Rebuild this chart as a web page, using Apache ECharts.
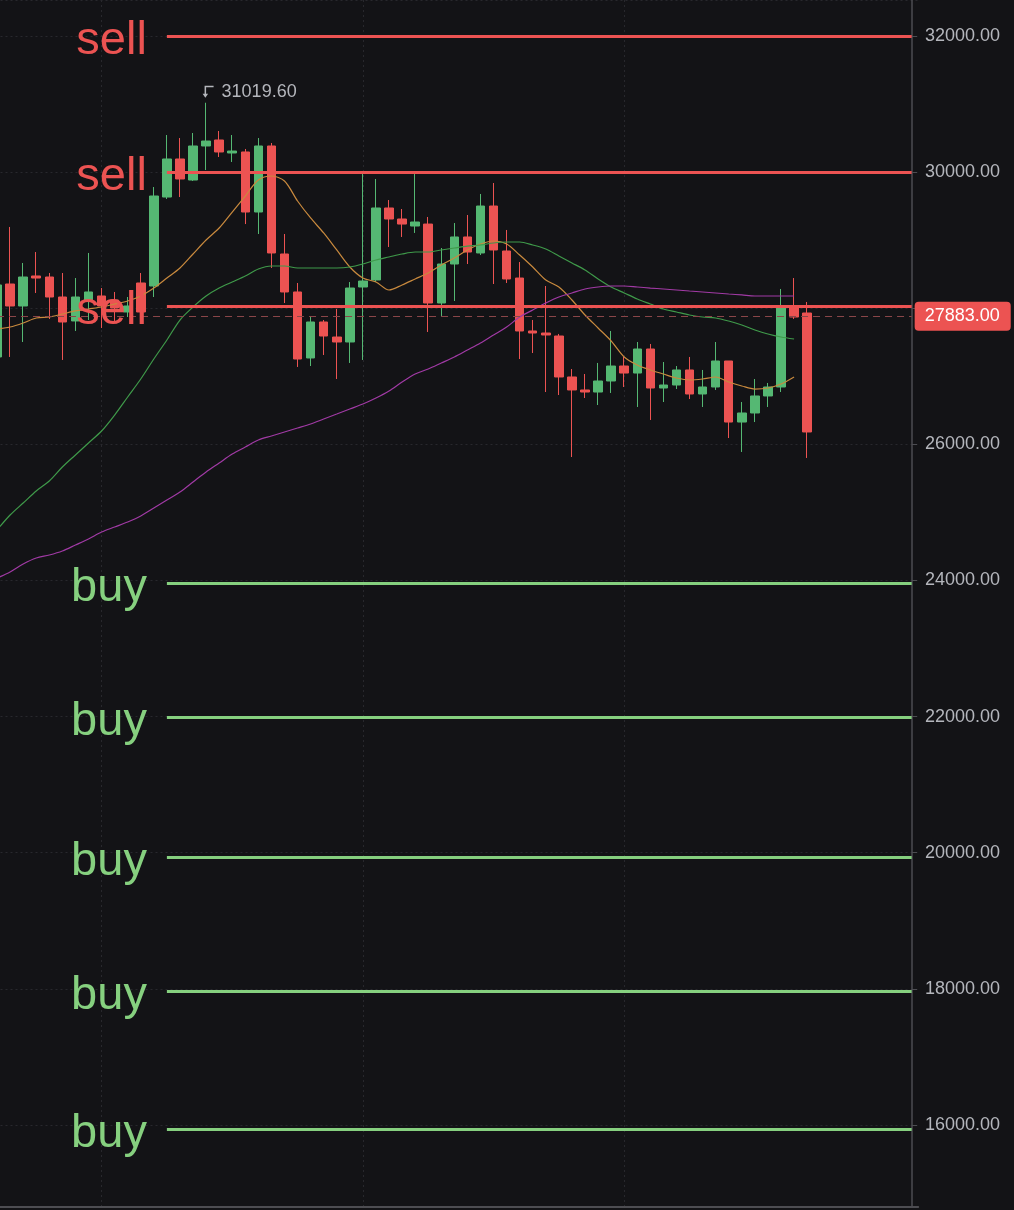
<!DOCTYPE html>
<html>
<head>
<meta charset="utf-8">
<script src="https://cdn.jsdelivr.net/npm/echarts/dist/echarts.min.js"></script>
<style>
  html, body { margin: 0; padding: 0; background: #131316; }
  #chart { width: 1014px; height: 1210px; }
</style>
</head>
<body>
<div id="chart"></div>
<script>
// daily candles [open, close, low, high]
var candles = [
  [27284, 28342, 27210, 28444],
  [28356, 28033, 27284, 29194],
  [28033, 28459, 27504, 28665],
  [28474, 28444, 28224, 28826],
  [28459, 28165, 27842, 28518],
  [28165, 27798, 27240, 28518],
  [27813, 28165, 27666, 28444],
  [28121, 28239, 27827, 28812],
  [28180, 28033, 27710, 28297],
  [28121, 28004, 27783, 28239],
  [27945, 28033, 27871, 28165],
  [28371, 27945, 27827, 28518],
  [28327, 29649, 28165, 29781],
  [29634, 30193, 29605, 30545],
  [30193, 29899, 29634, 30501],
  [29884, 30384, 29870, 30575],
  [30384, 30457, 30031, 31019.6],
  [30472, 30296, 30222, 30604],
  [30281, 30310, 30149, 30545],
  [30296, 29414, 29237, 30340],
  [29414, 30384, 29091, 30501],
  [30384, 28812, 28591, 30428],
  [28797, 28239, 28077, 29091],
  [28239, 27254, 27137, 28371],
  [27269, 27798, 27151, 27871],
  [27798, 27592, 27313, 27827],
  [27577, 27504, 26960, 27989],
  [27504, 28297, 27196, 28385],
  [28312, 28400, 27240, 29987],
  [28415, 29473, 28385, 29899],
  [29473, 29311, 28900, 29590],
  [29311, 29237, 29047, 29458],
  [29208, 29267, 29106, 29972],
  [29237, 28077, 27651, 29341],
  [28077, 28650, 27886, 28885],
  [28650, 29047, 28106, 29252],
  [29047, 28826, 28650, 29370],
  [28812, 29502, 28782, 29679],
  [29502, 28856, 28356, 29840],
  [28841, 28430, 28371, 29150],
  [28444, 27666, 27254, 28679],
  [27666, 27636, 27342, 27827],
  [27636, 27607, 26769, 28327],
  [27592, 26990, 26725, 27622],
  [26990, 26799, 25814, 27107],
  [26799, 26769, 26681, 27034],
  [26769, 26931, 26578, 27196],
  [26931, 27151, 26755, 27666],
  [27151, 27048, 26843, 27284],
  [27048, 27401, 26549, 27504],
  [27401, 26828, 26358, 27475],
  [26828, 26872, 26622, 27210],
  [26872, 27093, 26813, 27151],
  [27093, 26740, 26666, 27284],
  [26740, 26843, 26549, 27093],
  [26843, 27225, 26799, 27504],
  [27225, 26328, 26093, 27225],
  [26328, 26461, 25888, 26622],
  [26461, 26711, 26328, 26960],
  [26711, 26843, 26549, 26902],
  [26843, 28004, 26769, 28283],
  [28033, 27871, 27842, 28444],
  [27930, 26182, 25800, 28092]
];

// moving averages
var maFast = [
  27695, 27724, 27783, 27857, 27871, 27915, 27960, 27989, 28018, 28062,
  28106, 28180, 28297, 28444, 28591, 28797, 29003, 29179, 29414, 29649,
  29884, 29943, 29870, 29576, 29326, 29106, 28856, 28606, 28444, 28386,
  28268, 28342, 28430, 28518, 28635, 28738, 28856, 28944, 28988, 28944,
  28782, 28606, 28415, 28312, 28121, 27901, 27710, 27519, 27284, 27166,
  27093, 27034, 26975, 26946, 26960, 26990, 26916, 26858, 26813, 26828,
  26887, 26990, null
];
var maMid = [
  24742, 24962, 25138, 25315, 25462, 25667, 25844, 26020, 26196, 26431,
  26696, 26960, 27254, 27533, 27827, 28018, 28180, 28297, 28386, 28474,
  28577, 28621, 28621, 28591, 28591, 28591, 28591, 28606, 28650, 28709,
  28753, 28797, 28826, 28826, 28856, 28885, 28914, 28929, 28959, 28973,
  28973, 28929, 28870, 28768, 28665, 28562, 28430, 28312, 28224, 28136,
  28062, 27989, 27945, 27901, 27871, 27857, 27812, 27754, 27680, 27621,
  27577, 27548, null
];
var maSlow = [
  24036, 24125, 24242, 24330, 24374, 24433, 24521, 24610, 24712, 24786,
  24859, 24947, 25065, 25183, 25300, 25447, 25594, 25726, 25858, 25961,
  26064, 26123, 26182, 26240, 26299, 26373, 26446, 26520, 26593, 26681,
  26784, 26916, 27034, 27107, 27195, 27284, 27386, 27489, 27607, 27724,
  27871, 27974, 28077, 28165, 28224, 28283, 28312, 28327, 28327, 28312,
  28297, 28283, 28268, 28253, 28239, 28224, 28209, 28195, 28180, 28180,
  28180, 28180, null
];

var sellLevels = [32000, 30000, 28030];
var buyLevels = [23960, 21990, 19940, 17970, 15940];
var lastPrice = 27883;
var peakHigh = 31019.6;
var peakIndex = 16;
var hiddenTick = 28000; // covered by the price tag

// empty slots to the right of the last candle
var emptySlots = 8;
var days = [];
for (var i = 0; i < candles.length + emptySlots; i++) days.push('D' + (i + 1));
var gridDays = [8, 28, 48];

var RED = '#ec5352';
var GREEN = '#55b873';
var BUY = '#86d07f';
var TEXT = '#b4b6bc';
var lineStart = 13;
var lineEnd = days.length - 1;

function levelLine(v, name, color) {
    return [
        {
            xAxis: lineStart, yAxis: v,
            lineStyle: { color: color, width: 3, type: 'solid' },
            label: {
                show: true, position: 'start', formatter: name, distance: 20,
                offset: [0, 5],
                color: color, fontSize: 47, fontFamily: 'Liberation Sans'
            }
        },
        { xAxis: lineEnd, yAxis: v }
    ];
}

var levelData = [];
sellLevels.forEach(function (v) { levelData.push(levelLine(v, 'sell', RED)); });
buyLevels.forEach(function (v) { levelData.push(levelLine(v, 'buy', BUY)); });
levelData.push([
    {
        xAxis: 0, yAxis: lastPrice,
        lineStyle: { color: '#8a4649', width: 1, type: [7, 5] },
        label: {
            show: true, position: 'end', distance: 3,
            formatter: lastPrice.toFixed(2),
            color: '#ffffff', backgroundColor: RED, borderRadius: 4,
            padding: [6, 11, 5, 10], fontSize: 18, fontFamily: 'Liberation Sans'
        }
    },
    { xAxis: lineEnd, yAxis: lastPrice }
]);

var myChart = echarts.init(document.getElementById('chart'));
var option = {
    backgroundColor: '#131316',
    animation: false,
    grid: {
        left: -9.5,
        top: 0,
        width: 927.7,
        height: 1207,
        containLabel: false,
        outerBoundsMode: 'none'
    },
    xAxis: {
        type: 'category',
        data: days,
        boundaryGap: true,
        axisLine: { show: true, lineStyle: { color: '#4d4d52', width: 2 } },
        axisTick: { show: false, alignWithLabel: true },
        axisLabel: { show: false },
        splitLine: {
            show: true,
            alignWithLabel: true,
            interval: function (idx) { return gridDays.indexOf(idx) >= 0; },
            lineStyle: { color: '#28282d', type: [2, 3], width: 1 }
        }
    },
    yAxis: {
        type: 'value',
        position: 'right',
        offset: -6.2,
        min: 14794.5,
        max: 32529,
        splitNumber: 9,
        scale: true,
        axisLine: { show: true, lineStyle: { color: '#4d4d52', width: 1.5 } },
        axisTick: { show: true, length: 5, lineStyle: { color: '#4d4d52' } },
        axisLabel: {
            color: TEXT, fontSize: 18, fontFamily: 'Liberation Sans', margin: 13,
            showMinLabel: false, showMaxLabel: false,
            formatter: function (v) { return v === hiddenTick ? '' : v.toFixed(2); }
        },
        splitLine: { show: true, lineStyle: { color: '#28282d', type: [2, 3] } }
    },
    series: [
        {
            name: 'price',
            type: 'candlestick',
            data: candles,
            barWidth: 9,
            itemStyle: {
                color: GREEN, color0: RED,
                borderColor: GREEN, borderColor0: RED,
                borderWidth: 1
            },
            markLine: {
                silent: true,
                symbol: ['none', 'none'],
                z: 6,
                data: levelData
            },
            markPoint: {
                silent: true,
                data: [
                    {
                        coord: [peakIndex, peakHigh],
                        symbol: 'path://M2,0 H11 V1.5 H3.5 V8 H5.5 L2.75,12 L0,8 H2 Z',
                        symbolSize: [11, 12],
                        symbolOffset: [2, -11],
                        itemStyle: { color: TEXT },
                        label: {
                            show: true, position: 'right', distance: 8,
                            formatter: peakHigh.toFixed(2),
                            color: TEXT, fontSize: 18, fontFamily: 'Liberation Sans'
                        }
                    }
                ]
            }
        },
        {
            name: 'MA fast', type: 'line', data: maFast, smooth: 0.3,
            showSymbol: false, z: 3,
            lineStyle: { color: '#c98a3e', width: 1.2 }
        },
        {
            name: 'MA mid', type: 'line', data: maMid, smooth: 0.3,
            showSymbol: false, z: 3,
            lineStyle: { color: '#3f9a4a', width: 1.2 }
        },
        {
            name: 'MA slow', type: 'line', data: maSlow, smooth: 0.3,
            showSymbol: false, z: 3,
            lineStyle: { color: '#a13aa5', width: 1.2 }
        }
    ]
};

option && myChart.setOption(option);
</script>
</body>
</html>
